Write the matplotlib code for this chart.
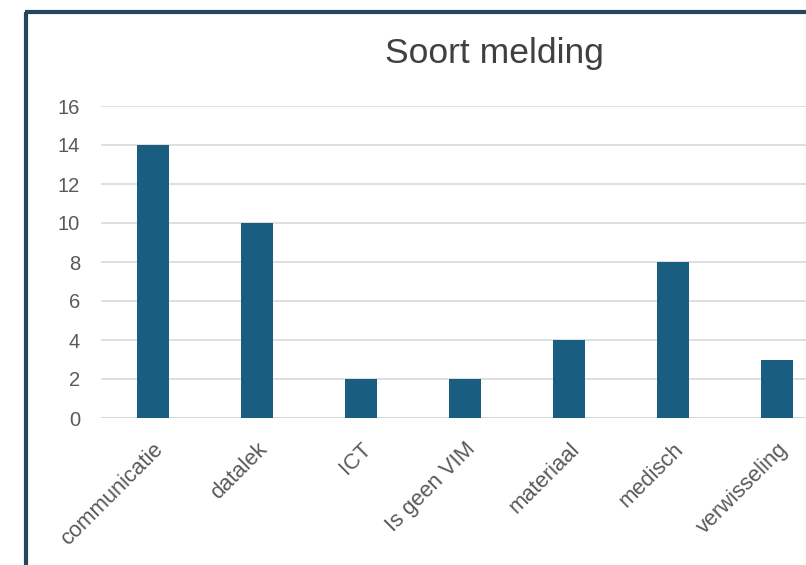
import matplotlib
matplotlib.use('Agg')
import matplotlib.pyplot as plt
from matplotlib.lines import Line2D
import matplotlib.transforms as mtransforms

categories = ['communicatie', 'datalek', 'ICT', 'Is geen VIM', 'materiaal', 'medisch', 'verwisseling']
counts = [14, 10, 2, 2, 4, 8, 3]
yticks = [0, 2, 4, 6, 8, 10, 12, 14, 16]

plt.rcParams['font.family'] = ['Liberation Sans', 'DejaVu Sans']
TXT = '#595959'
BAR = '#195e80'
GRID = '#d9d9d9'

W, H = 806, 565
fig = plt.figure(figsize=(W / 100, H / 100), dpi=100)
fig.patch.set_facecolor('white')

# axes wider than the figure: the original screenshot is cut off at the right
x0, x1 = 101, 829
y0, y1 = 418, 106
ax = fig.add_axes([x0 / W, 1 - y0 / H, (x1 - x0) / W, (y0 - y1) / H])

xs = list(range(len(categories)))
ax.bar(xs, counts, width=0.31, color=BAR, zorder=3)
ax.set_xlim(-0.5, len(categories) - 0.5)
ax.set_ylim(0, 16)
ax.set_yticks(yticks)
ax.set_yticklabels([str(v) for v in yticks], fontsize=14.5, color=TXT)
ax.set_xticks(xs)
ax.set_xticklabels(categories, rotation=45, ha='right', rotation_mode='anchor',
                   fontsize=15.8, color=TXT)
shift = mtransforms.ScaledTranslation(1 / 100, 0, fig.dpi_scale_trans)
for lab in ax.get_xticklabels():
    lab.set_transform(lab.get_transform() + shift)
ax.tick_params(axis='both', length=0)
ax.tick_params(axis='y', pad=15)
ax.tick_params(axis='x', pad=15)
ax.grid(axis='y', color=GRID, linewidth=1.2, zorder=0)
for s in ax.spines.values():
    s.set_visible(False)
ax.axhline(0, color=GRID, linewidth=1.4, zorder=2)

fig.text(494 / W, 1 - 54 / H, 'Soort melding', ha='center', va='center',
         fontsize=25.5, color='#404040')

# dark frame on left and top edges
fig.add_artist(Line2D([26 / W, 26 / W], [0, 1 - 12 / H], color='#24475e',
                      linewidth=3, transform=fig.transFigure, solid_capstyle='butt'))
fig.add_artist(Line2D([24.5 / W, 1], [1 - 12 / H, 1 - 12 / H], color='#24475e',
                      linewidth=3, transform=fig.transFigure, solid_capstyle='butt'))

fig.savefig('out.png', dpi=100, facecolor='white')
